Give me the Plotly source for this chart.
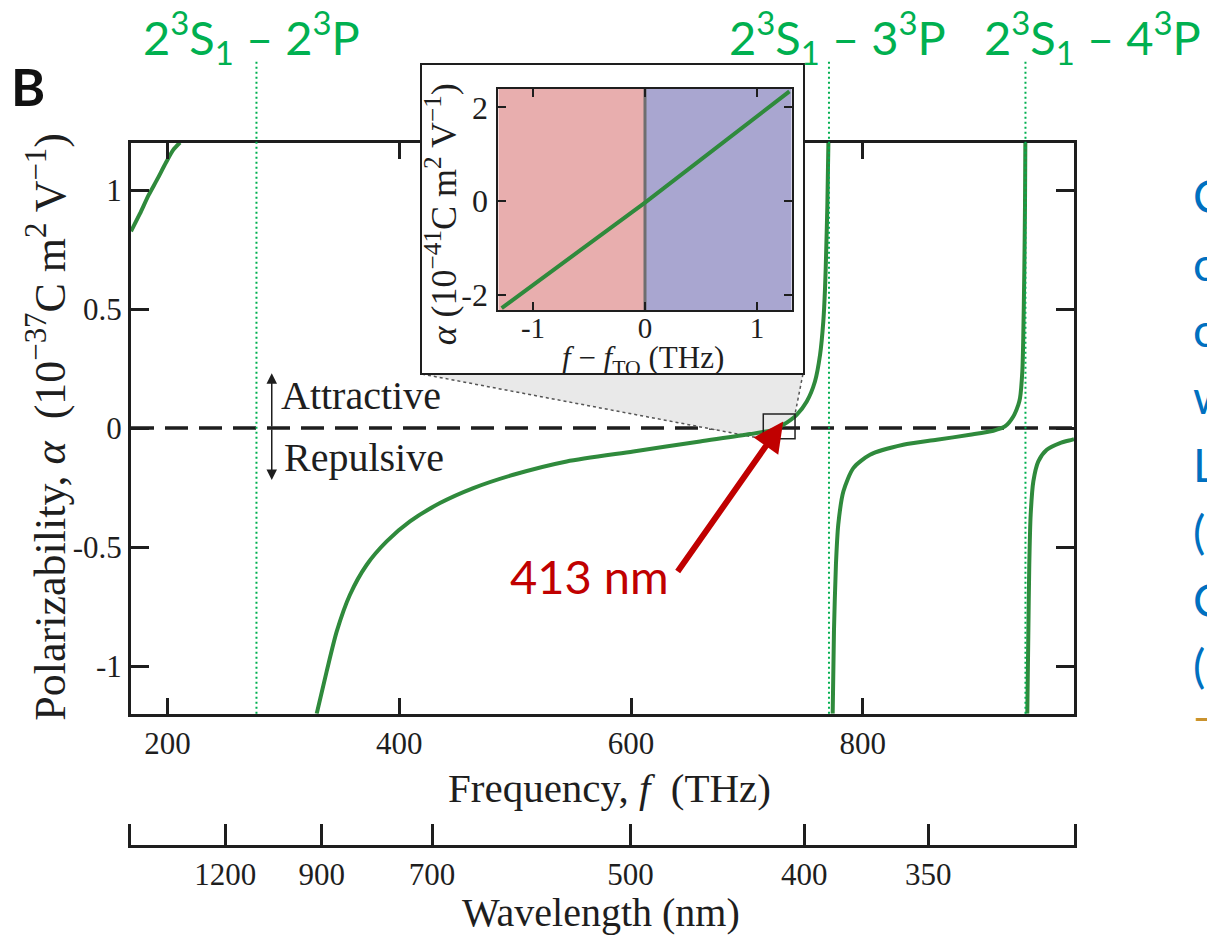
import plotly.graph_objects as go

W, H = 1207, 939
C_NM_THZ = 299792.458  # nm * THz

# ---------------- data ----------------
# main curve: polarizability (1e-37 C m^2 / V) vs frequency (THz), 4 branches
seg1_f = [168.4, 176.0, 183.6, 191.0, 198.5, 205.0, 210.7]
seg1_a = [0.827, 0.900, 0.979, 1.045, 1.115, 1.170, 1.200]

seg2_f = [328.7, 337.3, 346.0, 357.4, 371.9, 389.1, 409.2, 435.1, 463.9, 498.4,
          544.5, 602.0, 659.6, 702.8, 722.8, 731.4, 743.0, 751.7, 758.8, 763.2,
          766.0, 767.5, 768.4, 769.5, 770.4]
seg2_a = [-1.200, -1.022, -0.854, -0.700, -0.574, -0.476, -0.392, -0.315, -0.252, -0.196,
          -0.140, -0.098, -0.056, -0.025, -0.007, 0.014, 0.056, 0.112, 0.196, 0.308,
          0.448, 0.588, 0.728, 0.938, 1.200]

seg3_f = [774.1, 775.2, 776.9, 778.9, 783.3, 791.9, 806.3, 835.0, 863.9, 892.6,
          912.8, 922.8, 930.0, 934.3, 935.8, 937.8, 938.6, 939.5, 940.1, 940.4]
seg3_a = [-1.200, -0.854, -0.574, -0.406, -0.266, -0.168, -0.112, -0.070, -0.049, -0.028,
          -0.011, 0.007, 0.049, 0.098, 0.126, 0.238, 0.378, 0.658, 0.938, 1.200]

seg4_f = [942.1, 943.0, 943.8, 945.0, 947.3, 951.6, 958.9, 970.3, 980.4, 982.4]
seg4_a = [-1.200, -0.854, -0.574, -0.364, -0.224, -0.140, -0.091, -0.063, -0.049, -0.046]

# inset: polarizability (1e-41) vs f - f_TO (THz)
inset_f = [-1.28, 0.0, 1.29]
inset_a = [-2.28, -0.03, 2.34]

# axes
freq_ticks = [200, 400, 600, 800]
alpha_ticks = [-1, -0.5, 0, 0.5, 1]
alpha_ticktext = ["-1", "-0.5", "0", "0.5", "1"]
wl_ticks_nm = [1200, 900, 700, 500, 400, 350]
inset_xticks = [-1, 0, 1]
inset_xtext = ["-1", "0", "1"]
inset_yticks = [-2, 0, 2]
inset_ytext = ["-2", "0", "2"]

# transitions (THz)
res_f = [276.7, 770.9, 940.5]
res_labels = ["2<sup>3</sup>S<sub>1</sub> \u2013 2<sup>3</sup>P",
              "2<sup>3</sup>S<sub>1</sub> \u2013 3<sup>3</sup>P",
              "2<sup>3</sup>S<sub>1</sub> \u2013 4<sup>3</sup>P"]
tuneout_nm = 413.0
f_TO = C_NM_THZ / tuneout_nm

F_RANGE = [168.4, 982.4]
A_RANGE = [-1.2, 1.2]

# ---------------- styles ----------------
SERIF = "Liberation Serif"
SANS = "Lato"
INK = "#1e1e1e"
CURVE = "#2f8a3c"
GREEN_LBL = "#00b050"
RED = "#c00000"


def px(x):
    return x / W


def py(y):
    return 1 - y / H


fig = go.Figure()
for fx, ay in [(seg1_f, seg1_a), (seg2_f, seg2_a), (seg3_f, seg3_a), (seg4_f, seg4_a)]:
    fig.add_trace(go.Scatter(x=fx, y=ay, mode="lines",
                             line=dict(color=CURVE, width=4, shape="spline", smoothing=0.7),
                             xaxis="x", yaxis="y", hoverinfo="skip"))
# wavelength axis subplot (empty)
fig.add_trace(go.Scatter(x=[None], y=[None], xaxis="x2", yaxis="y2", hoverinfo="skip"))
# white inset frame subplot (empty)
fig.add_trace(go.Scatter(x=[None], y=[None], xaxis="x3", yaxis="y3", hoverinfo="skip"))
# inset
fig.add_trace(go.Scatter(x=inset_f, y=inset_a, mode="lines", line=dict(color=CURVE, width=4),
                         xaxis="x4", yaxis="y4", hoverinfo="skip"))

axis_common = dict(showgrid=False, zeroline=False, linecolor=INK, tickcolor=INK,
                   showline=True)

fig.update_layout(
    width=W, height=H, autosize=False,
    margin=dict(l=0, r=0, t=0, b=0),
    paper_bgcolor="white", plot_bgcolor="white",
    showlegend=False,
    xaxis=dict(domain=[px(131), px(1074)], range=F_RANGE, tickvals=freq_ticks,
               ticks="inside", ticklen=16, tickwidth=3, linewidth=3, mirror="ticks",
               tickfont=dict(family=SERIF, size=31, color=INK), ticklabelstandoff=0,
               anchor="y", **axis_common),
    yaxis=dict(domain=[py(716), py(143)], range=A_RANGE, tickvals=alpha_ticks,
               ticktext=alpha_ticktext, ticks="inside", ticklen=18, tickwidth=3,
               linewidth=3, mirror="ticks", ticklabelstandoff=0,
               tickfont=dict(family=SERIF, size=31, color=INK), anchor="x", **axis_common),
    xaxis2=dict(domain=[px(131), px(1074)], range=F_RANGE,
                tickvals=[C_NM_THZ / w for w in wl_ticks_nm],
                ticktext=[str(w) for w in wl_ticks_nm],
                ticks="inside", ticklen=21, tickwidth=3, linewidth=3, anchor="y2",
                tickfont=dict(family=SERIF, size=31, color=INK), ticklabelstandoff=0,
                **axis_common),
    yaxis2=dict(domain=[py(848), py(827)], range=[0, 1], linewidth=3, mirror=True,
                ticks="", showticklabels=False, anchor="x2", **axis_common),
    xaxis3=dict(domain=[px(421.7), px(803.3)], range=[0, 1], linewidth=2, mirror=True,
                ticks="", showticklabels=False, anchor="y3", **axis_common),
    yaxis3=dict(domain=[py(374.3), py(65)], range=[0, 1], linewidth=2, mirror=True,
                ticks="", showticklabels=False, anchor="x3", **axis_common),
    xaxis4=dict(domain=[px(498.3), px(791.7)], range=[-1.31, 1.31], tickvals=inset_xticks,
                ticktext=inset_xtext, ticks="inside", ticklen=8, tickwidth=2, linewidth=2,
                mirror="ticks", tickfont=dict(family=SERIF, size=29, color=INK),
                ticklabelstandoff=-9, anchor="y4", **axis_common),
    yaxis4=dict(domain=[py(311), py(89.3)], range=[-2.32, 2.39], tickvals=inset_yticks,
                ticktext=inset_ytext, ticks="inside", ticklen=8, tickwidth=2, linewidth=2,
                mirror="ticks", tickfont=dict(family=SERIF, size=32, color=INK),
                ticklabelstandoff=2, anchor="x4", **axis_common),
)

shapes = []
# zoom connector (grey wedge) from inset frame to tune-out box
box_f = [f_TO - 11.7, f_TO + 15.7]
box_a = [-0.045, 0.059]
wedge_left = (419.6, 0.227)
wedge_right = (748.4, 0.227)
shapes.append(dict(type="path", xref="x", yref="y", layer="below",
                   path=f"M{wedge_left[0]},{wedge_left[1]} L{box_f[0]},{box_a[0]} "
                        f"L{box_f[1]},{box_a[1]} L{wedge_right[0]},{wedge_right[1]} Z",
                   fillcolor="#e9e9e9", line=dict(width=0)))
shapes.append(dict(type="line", xref="x", yref="y", layer="below",
                   x0=wedge_left[0], y0=wedge_left[1], x1=box_f[0], y1=box_a[0],
                   line=dict(color="#555555", width=1.5, dash="3px,3px")))
shapes.append(dict(type="line", xref="x", yref="y", layer="below",
                   x0=wedge_right[0], y0=wedge_right[1], x1=box_f[1], y1=box_a[1],
                   line=dict(color="#555555", width=1.5, dash="3px,3px")))
# zero line
shapes.append(dict(type="line", xref="x domain", yref="y", layer="below",
                   x0=0, x1=1, y0=0, y1=0, line=dict(color=INK, width=3.5, dash="23px,11px")))
# tune-out box
shapes.append(dict(type="rect", xref="x", yref="y", layer="above",
                   x0=box_f[0], x1=box_f[1], y0=box_a[0], y1=box_a[1],
                   line=dict(color="#222222", width=1.5)))
# resonance lines
for f in res_f:
    shapes.append(dict(type="line", xref="x", yref="paper", layer="above",
                       x0=f, x1=f, y0=py(716), y1=py(62),
                       line=dict(color=GREEN_LBL, width=2, dash="2px,3px")))
# inset white frame
shapes.append(dict(type="rect", xref="x3 domain", yref="y3 domain", layer="below",
                   x0=0, x1=1, y0=0, y1=1, fillcolor="white", line=dict(width=0)))
# inset coloured halves
shapes.append(dict(type="rect", xref="x4", yref="y4", layer="below",
                   x0=-1.31, x1=0, y0=-2.32, y1=2.39, fillcolor="#e8aeae", line=dict(width=0)))
shapes.append(dict(type="rect", xref="x4", yref="y4", layer="below",
                   x0=0, x1=1.31, y0=-2.32, y1=2.39, fillcolor="#a9a6d0", line=dict(width=0)))
shapes.append(dict(type="line", xref="x4", yref="y4", layer="below",
                   x0=0, x1=0, y0=-2.32, y1=2.39, line=dict(color="#6e6e6e", width=3)))
shapes.append(dict(type="line", xref="x4 domain", yref="y4", layer="below",
                   x0=0, x1=1, y0=0, y1=0, line=dict(color=INK, width=2.5, dash="20px,12px")))
fig.update_layout(shapes=shapes)

ann = []


def label(x, y, text, size, color=INK, family=SERIF, angle=0, xanchor="center"):
    ann.append(dict(xref="paper", yref="paper", x=px(x), y=py(y), text=text,
                    textangle=angle, xanchor=xanchor, yanchor="middle", showarrow=False,
                    font=dict(family=family, size=size, color=color)))


# axis titles
label(47, 428, "Polarizability, <i>\u03b1</i>  (10<sup>\u221237</sup>C m<sup>2</sup> V<sup>\u22121</sup>)",
      44, angle=-90)
label(609, 791, "Frequency, <i>f</i>  (THz)", 41)
label(601, 915, "Wavelength (nm)", 40)
# inset titles
label(441, 215, "<i>\u03b1</i> (10<sup>\u221241</sup>C m<sup>2</sup> V<sup>\u22121</sup>)", 36, angle=-90)
label(643, 361, "<i>f</i> \u2212 <i>f</i><sub>TO</sub> (THz)", 31)
# attractive / repulsive
arrow_f = 289.9
for tip in (0.231, -0.218):
    ann.append(dict(xref="x", yref="y", x=arrow_f, y=tip, ax=arrow_f, ay=0.0,
                    axref="x", ayref="y", text="", showarrow=True, arrowhead=2,
                    arrowsize=1.4, arrowwidth=1.5, arrowcolor=INK))
ann.append(dict(xref="x", yref="y", x=296.0, y=0.137, xanchor="left", yanchor="middle",
                text="Attractive", showarrow=False, font=dict(family=SERIF, size=40, color=INK)))
ann.append(dict(xref="x", yref="y", x=298.5, y=-0.122, xanchor="left", yanchor="middle",
                text="Repulsive", showarrow=False, font=dict(family=SERIF, size=40, color=INK)))
# 413 nm arrow
ann.append(dict(xref="x", yref="y", x=f_TO + 5.5, y=0.028, ax=639.4, ay=-0.609,
                axref="x", ayref="y", text="", showarrow=True, arrowhead=2,
                arrowsize=1.0, arrowwidth=6, arrowcolor=RED))
label(589, 578, f"{tuneout_nm:.0f} nm", 47, color=RED, family=SANS)
# transition labels
for lbl, xc in zip(res_labels, [251, 837, 1092]):
    label(xc, 38, lbl, 47, color=GREEN_LBL, family=SANS)
# panel letter
label(28, 86, "<b>B</b>", 52, color="#111111", family=SANS)
# clipped slide text on the right edge
side_letters = ["C", "c", "c", "w", "L", "(", "C", "("]
side_rows = [196, 264, 331, 398, 466, 533, 601, 668]
for t, yy in zip(side_letters, side_rows):
    label(1191, yy, t, 46, color="#0070c0", family=SANS, xanchor="left")
label(1191, 718, "\u2014", 46, color="#c9922e", family=SANS, xanchor="left")
fig.update_layout(annotations=ann)

fig.write_html("out.html")
